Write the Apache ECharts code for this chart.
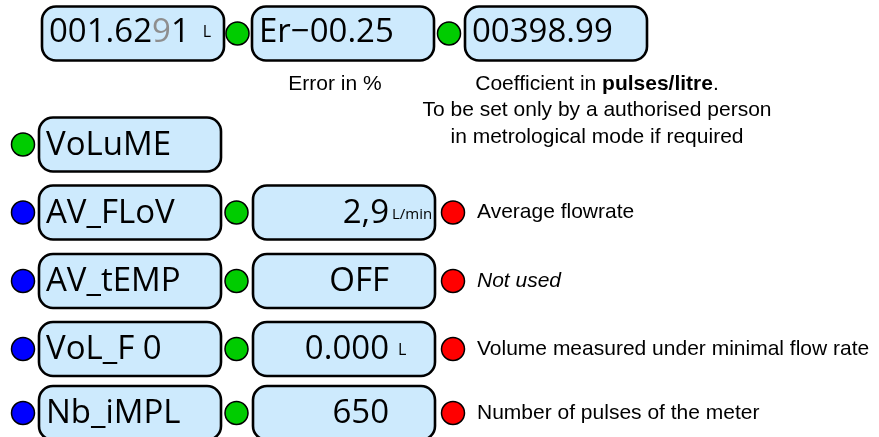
<!DOCTYPE html>
<html>
<head>
<meta charset="utf-8">
<script src="https://cdn.jsdelivr.net/npm/echarts@6/dist/echarts.min.js"></script>
<style>
  html, body { margin: 0; padding: 0; background: #fff; }
  #chart { width: 879px; height: 437px; }
</style>
</head>
<body>
<div id="chart"></div>
<script>
// top line of the display: readouts and their notes
const topReadouts = ['001.6291', 'Er−00.25', '00398.99']
const topUnits = ['L', '', '']
const topNotes = ['', 'Error in %', 'Coefficient in pulses/litre.\nTo be set only by a authorised person\nin metrological mode if required']

// menu entries
const menuNames = ['VoLuME', 'AV_FLoV', 'AV_tEMP', 'VoL_F 0', 'Nb_iMPL']
const menuValues = [null, '2,9', 'OFF', '0.000', '650']
const menuUnits = ['', 'L/min', '', 'L', '']
const menuNotes = ['', 'Average flowrate', 'Not used', 'Volume measured under minimal flow rate', 'Number of pulses of the meter']
const menuKeys = ['green', 'blue', 'blue', 'blue', 'blue']

// layout, in px
const boxW = 182, boxH = 54
const topY = 33.5
const topBoxX = [42, 252, 465]
const topDotX = [237.5, 449]
const rowY = [144.5, 212.5, 281, 349, 413]
const nameBoxX = 39, valueBoxX = 253
const leftDotX = 23, midDotX = 236.5, rightDotX = 453
const noteX = 477

const FILL = '#cdeafd'
const boxFont = '"Open Sans", "Noto Sans", sans-serif'
const noteFont = '"Liberation Sans", Arial, sans-serif'

const boxes = []
topReadouts.forEach((t, i) => {
  let txt = '{v|' + t + '}'
  if (i === 0) txt = '{v|' + t.slice(0, 6) + '}{g|' + t[6] + '}{v|' + t.slice(7) + '}'
  if (topUnits[i]) txt += '{u|' + topUnits[i] + '}'
  boxes.push({ x: topBoxX[i], y: topY, text: txt, dy: -1 })
})
menuNames.forEach((n, i) => {
  boxes.push({ x: nameBoxX, y: rowY[i], text: '{v|' + n + '}', dy: 1 })
  if (menuValues[i] !== null) {
    boxes.push({ x: valueBoxX, y: rowY[i], value: menuValues[i], unit: menuUnits[i], dy: 1 })
  }
})

// zrender rich styles (raw graphic elements use fill, not color)
const richStyles = {
  v: { fontSize: 33, fontFamily: boxFont, fill: '#000' },
  g: { fontSize: 33, fontFamily: boxFont, fill: '#8e8e8e' },
  u: { fontSize: 16, fontFamily: boxFont, fill: '#000', padding: [0, 0, 0, 13] }
}

const greenDots = [[topDotX[0], topY], [topDotX[1], topY]]
const blueDots = []
const redDots = []
menuNames.forEach((n, i) => {
  if (menuKeys[i] === 'green') greenDots.push([leftDotX, rowY[i]])
  else blueDots.push([leftDotX, rowY[i]])
  if (menuValues[i] !== null) {
    greenDots.push([midDotX, rowY[i]])
    redDots.push([rightDotX, rowY[i]])
  }
})

const notes = []
notes.push({ x: topBoxX[1] + boxW / 2 - 8, y: 84, text: topNotes[1], align: 'center' })
notes.push({ x: 597, y: 84, text: topNotes[2], align: 'center', rich: true })
menuNotes.forEach((t, i) => {
  if (t) notes.push({ x: noteX, y: rowY[i], text: t, align: 'left', italic: t === 'Not used' })
})

function dotSeries (data, color) {
  return {
    type: 'scatter',
    data: data,
    symbolSize: 23,
    itemStyle: { color: color, borderColor: '#000', borderWidth: 1.5, opacity: 1 },
    silent: true,
    z: 5
  }
}

const option = {
  animation: false,
  grid: { left: 0, right: 0, top: 0, bottom: 0 },
  xAxis: { type: 'value', min: 0, max: 879, show: false },
  yAxis: { type: 'value', min: 0, max: 437, inverse: true, show: false },
  series: [
    {
      type: 'custom',
      data: boxes.map(b => [b.x, b.y]),
      silent: true,
      renderItem: function (params, api) {
        const b = boxes[params.dataIndex]
        const p = api.coord([api.value(0), api.value(1)])
        const children = [{
          type: 'rect',
          shape: { x: p[0], y: p[1] - boxH / 2, width: boxW, height: boxH, r: 14 },
          style: { fill: FILL, stroke: '#000', lineWidth: 2.6 }
        }]
        if (b.text) {
          children.push({
            type: 'text',
            x: p[0] + 7, y: p[1] + b.dy,
            style: { text: b.text, rich: richStyles, verticalAlign: 'middle', align: 'left' }
          })
        } else {
          const rx = p[0] + boxW - 46
          children.push({
            type: 'text',
            x: rx, y: p[1] + b.dy,
            style: { text: b.value, font: '33px ' + boxFont, fill: '#000', verticalAlign: 'middle', align: 'right' }
          })
          if (b.unit) {
            const small = b.unit.length > 1
            children.push({
              type: 'text',
              x: rx + (small ? 3 : 9), y: p[1] + (small ? 2 : 1),
              style: { text: b.unit, font: (small ? 15 : 16) + 'px ' + boxFont, fill: '#000', verticalAlign: 'middle', align: 'left' }
            })
          }
        }
        return { type: 'group', children: children }
      }
    },
    {
      type: 'custom',
      data: notes.map(n => [n.x, n.y]),
      silent: true,
      renderItem: function (params, api) {
        const n = notes[params.dataIndex]
        const p = api.coord([api.value(0), api.value(1)])
        const style = {
          text: n.rich ? n.text.replace('pulses/litre', '{b|pulses/litre}') : n.text,
          font: (n.italic ? 'italic ' : '') + '21px ' + noteFont,
          fill: '#000',
          align: n.align,
          verticalAlign: 'middle',
          lineHeight: 26.3
        }
        if (n.rich) {
          style.rich = { b: { fontWeight: 'bold', fontSize: 21, fontFamily: noteFont, fill: '#000', lineHeight: 26.3 } }
          style.verticalAlign = 'top'
        }
        return {
          type: 'text',
          x: p[0], y: n.rich ? p[1] - 13 : p[1],
          style: style
        }
      }
    },
    dotSeries(greenDots, '#00cc00'),
    dotSeries(blueDots, '#0000ff'),
    dotSeries(redDots, '#ff0000')
  ]
}

const chart = echarts.init(document.getElementById('chart'))
chart.setOption(option)
window.addEventListener('resize', () => chart.resize())
</script>
</body>
</html>
